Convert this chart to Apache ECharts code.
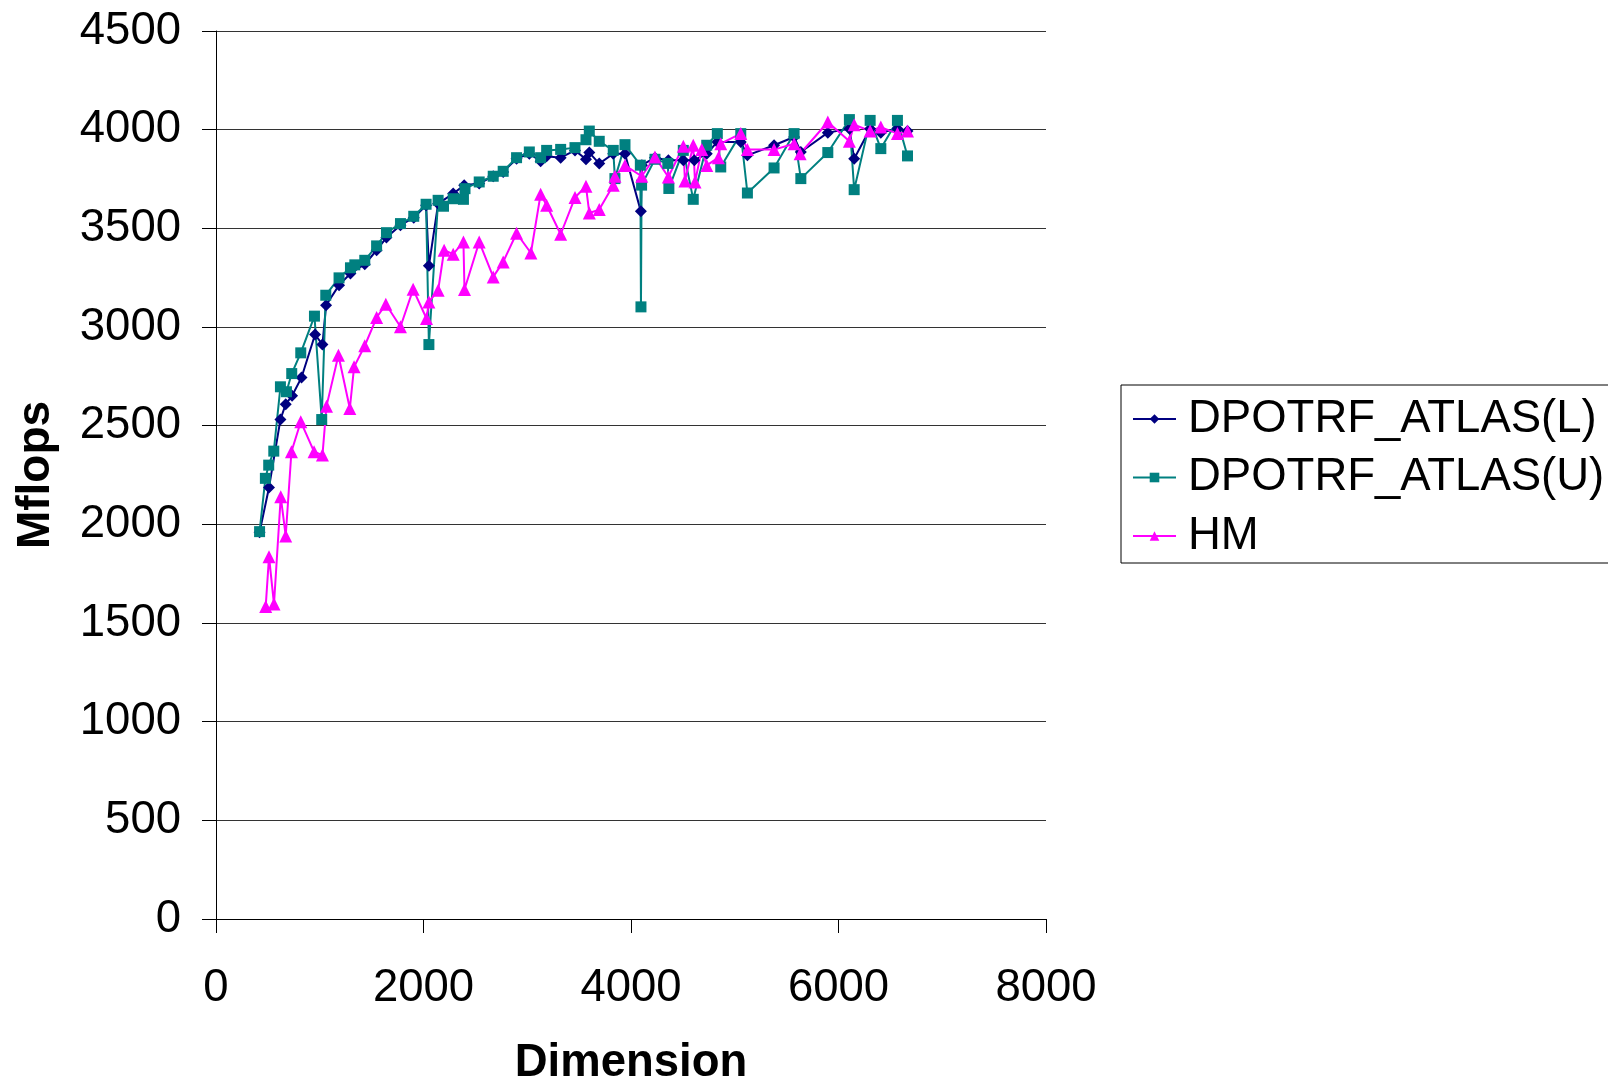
<!DOCTYPE html>
<html>
<head>
<meta charset="utf-8">
<script src="https://cdn.jsdelivr.net/npm/echarts@6/dist/echarts.min.js"></script>
<style>
  html, body { margin: 0; padding: 0; background: #fff; }
  #chart { width: 1608px; height: 1080px; }
</style>
</head>
<body>
<div id="chart"></div>
<script>
// series names
const seriesNames = ['DPOTRF_ATLAS(L)', 'DPOTRF_ATLAS(U)', 'HM'];

// DPOTRF_ATLAS(L)
const dimL = [420, 511, 621, 672, 733, 824, 955, 1026, 1061, 1186, 1296, 1434, 1548, 1643, 1778, 1906, 2025, 2052, 2141, 2286,
  2392, 2537, 2672, 2768, 2897, 3020, 3129, 3187, 3322, 3460, 3566, 3598, 3694, 3829, 3942, 4095, 4105, 4231, 4360, 4504,
  4610, 4730, 4832, 5058, 5122, 5379, 5572, 5637, 5897, 6105, 6151, 6305, 6408, 6568, 6665];
const mflopsL = [1960, 2187, 2531, 2609, 2651, 2744, 2962, 2911, 3110, 3212, 3271, 3318, 3389, 3453, 3516, 3554, 3617, 3310, 3625, 3676,
  3718, 3727, 3764, 3786, 3853, 3878, 3840, 3865, 3858, 3895, 3850, 3884, 3828, 3878, 3878, 3586, 3820, 3858, 3845, 3845,
  3845, 3878, 3938, 3938, 3870, 3921, 3963, 3887, 3985, 4005, 3853, 4005, 3985, 4005, 3993];

// DPOTRF_ATLAS(U)
const dimU = [420, 476, 508, 557, 621, 679, 730, 817, 949, 1019, 1058, 1186, 1296, 1338, 1434, 1548, 1643, 1778, 1906, 2025,
  2052, 2141, 2193, 2286, 2385, 2400, 2537, 2672, 2768, 2897, 3020, 3129, 3187, 3322, 3460, 3566, 3598, 3694, 3829, 3845,
  3942, 4090, 4096, 4102, 4231, 4355, 4365, 4504, 4600, 4730, 4832, 4865, 5058, 5122, 5379, 5572, 5637, 5897, 6105, 6151,
  6305, 6408, 6568, 6665];
const mflopsU = [1963, 2233, 2300, 2371, 2697, 2672, 2764, 2869, 3055, 2531, 3161, 3249, 3300, 3315, 3338, 3411, 3478, 3524, 3561, 3622,
  2911, 3642, 3612, 3650, 3647, 3701, 3735, 3764, 3789, 3858, 3887, 3858, 3895, 3900, 3909, 3949, 3993, 3941, 3895, 3752,
  3924, 3820, 3102, 3719, 3850, 3829, 3702, 3895, 3647, 3921, 3980, 3811, 3980, 3679, 3806, 3980, 3752, 3884, 4051, 3696,
  4047, 3904, 4047, 3867];

// HM
const dimHM = [479, 511, 559, 624, 672, 727, 817, 945, 1026, 1065, 1180, 1290, 1331, 1434, 1548, 1637, 1778, 1900, 2029, 2052,
  2141, 2199, 2286, 2385, 2395, 2537, 2672, 2768, 2897, 3035, 3129, 3187, 3322, 3460, 3566, 3598, 3694, 3829, 3845, 3942,
  4103, 4231, 4360, 4504, 4520, 4600, 4617, 4682, 4730, 4842, 4865, 5058, 5122, 5379, 5572, 5630, 5897, 6105, 6151, 6305,
  6408, 6568, 6665];
const mflopsHM = [1583, 1836, 1596, 2140, 1941, 2368, 2520, 2368, 2351, 2599, 2857, 2587, 2798, 2905, 3048, 3115, 3001, 3191, 3043, 3127,
  3186, 3389, 3369, 3431, 3190, 3431, 3254, 3330, 3475, 3375, 3673, 3617, 3470, 3656, 3713, 3578, 3595, 3718, 3764, 3819,
  3764, 3862, 3760, 3916, 3740, 3921, 3735, 3899, 3819, 3858, 3929, 3980, 3899, 3899, 3929, 3878, 4039, 3941, 4025, 3993,
  4013, 3980, 3993];

// axes
const xMin = 0, xMax = 8000, xStep = 2000;
const yMin = 0, yMax = 4500, yStep = 500;

const pairs = (xs, ys) => xs.map((x, i) => [x, ys[i]]);

const font = 'Liberation Sans, Arial, Helvetica, sans-serif';

const chart = echarts.init(document.getElementById('chart'));

const option = {
  animation: false,
  backgroundColor: '#fff',
  grid: { left: 216, right: 562, top: 31, bottom: 161, containLabel: false, outerBoundsMode: 'none' },
  xAxis: {
    type: 'value',
    min: xMin, max: xMax, interval: xStep,
    name: 'Dimension',
    nameLocation: 'middle',
    nameGap: 121,
    nameTextStyle: { fontFamily: font, fontSize: 45.5, fontWeight: 'bold', color: '#000' },
    axisLine: { show: true, lineStyle: { color: '#000', width: 1 } },
    axisTick: { show: true, length: 14, lineStyle: { color: '#000', width: 1 } },
    axisLabel: { fontFamily: font, fontSize: 45.5, color: '#000', margin: 46, formatter: v => String(v) },
    splitLine: { show: false }
  },
  yAxis: {
    type: 'value',
    min: yMin, max: yMax, interval: yStep,
    name: 'Mflops',
    nameLocation: 'middle',
    nameGap: 157,
    nameTextStyle: { fontFamily: font, fontSize: 46, fontWeight: 'bold', color: '#000' },
    axisLine: { show: true, lineStyle: { color: '#000', width: 1 } },
    axisTick: { show: true, length: 14, lineStyle: { color: '#000', width: 1 } },
    axisLabel: { fontFamily: font, fontSize: 45.5, color: '#000', margin: 35, formatter: v => String(v) },
    splitLine: { show: true, lineStyle: { color: '#333', width: 1 } }
  },
  legend: {
    orient: 'vertical',
    left: 1121,
    top: 385,
    padding: [11, 12, 4, 11],
    itemGap: 12.5,
    itemWidth: 43,
    itemHeight: 12,
    borderColor: '#000',
    borderWidth: 1,
    textStyle: { fontFamily: font, fontSize: 45.5, color: '#000', padding: [0, 0, 0, 7], lineHeight: 44 },
    data: seriesNames
  },
  series: [
    {
      name: seriesNames[0],
      type: 'line',
      data: pairs(dimL, mflopsL),
      symbol: 'diamond',
      symbolSize: 12,
      color: '#000080',
      lineStyle: { color: '#000080', width: 2 },
      itemStyle: { color: '#000080' }
    },
    {
      name: seriesNames[1],
      type: 'line',
      data: pairs(dimU, mflopsU),
      symbol: 'rect',
      symbolSize: 11,
      color: '#008080',
      lineStyle: { color: '#008080', width: 2 },
      itemStyle: { color: '#008080' }
    },
    {
      name: seriesNames[2],
      type: 'line',
      data: pairs(dimHM, mflopsHM),
      symbol: 'triangle',
      symbolSize: 13,
      color: '#ff00ff',
      lineStyle: { color: '#ff00ff', width: 2 },
      itemStyle: { color: '#ff00ff' }
    }
  ]
};

chart.setOption(option);
</script>
</body>
</html>
